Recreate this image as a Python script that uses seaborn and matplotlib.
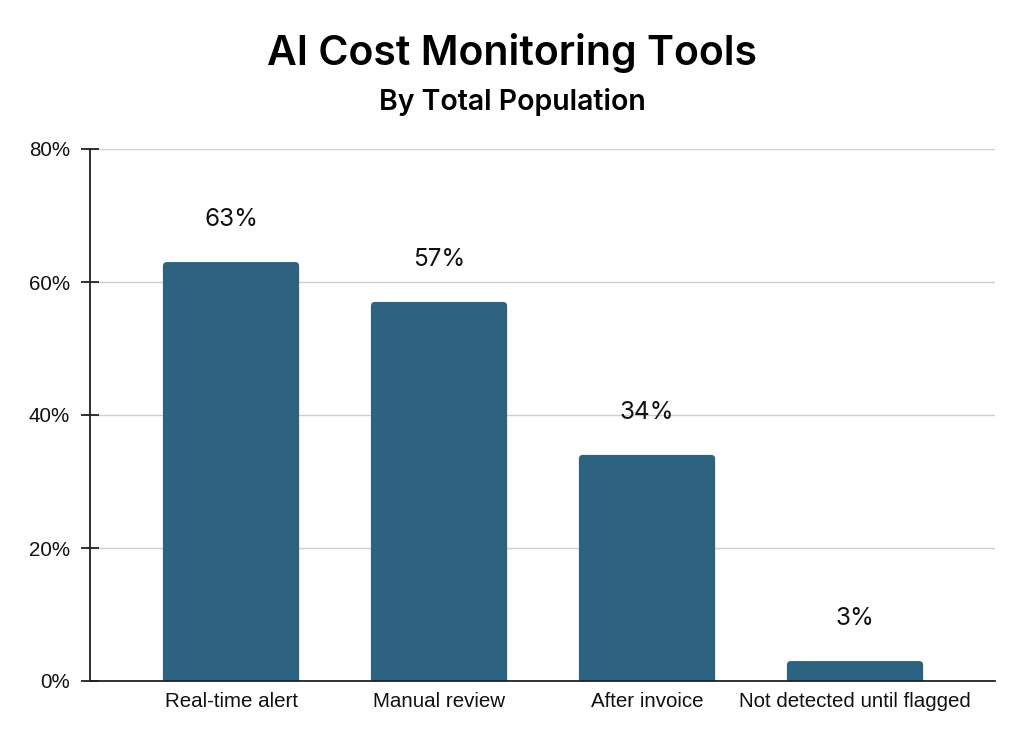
import matplotlib
matplotlib.use("Agg")
import matplotlib.pyplot as plt
import matplotlib.ticker as mticker
from matplotlib.patches import FancyBboxPatch
import pandas as pd
import seaborn as sns

CATEGORIES = ["Real-time alert", "Manual review", "After invoice", "Not detected until flagged"]
SHARES = [63, 57, 34, 3]
Y_TICKS = [0, 20, 40, 60, 80]

BAR_COLOR = "#2d6380"
TITLE = "AI Cost Monitoring Tools"
SUBTITLE = "By Total Population"


def main() -> None:
    sns.set_theme(style="white")
    plt.rcParams["font.family"] = ["Liberation Sans", "DejaVu Sans"]

    df = pd.DataFrame({"category": CATEGORIES, "share": SHARES})

    fig = plt.figure(figsize=(10.24, 7.55), dpi=100)
    ax = fig.add_axes([90 / 1024, 74 / 755, 905 / 1024, 532 / 755])

    sns.barplot(data=df, x="category", y="share", order=CATEGORIES,
                color=BAR_COLOR, saturation=1, width=0.655, ax=ax, zorder=3)

    ax.set_xlim(-0.678, 3.673)
    ax.set_ylim(0, 80)
    ax.set_yticks(Y_TICKS)
    ax.yaxis.set_major_formatter(mticker.FuncFormatter(lambda v, _: f"{v:.0f}%"))
    ax.set_xlabel("")
    ax.set_ylabel("")

    # rounded tops on the bars
    x_per_px = (3.673 + 0.678) / 905
    y_per_px = 80 / 532
    r = 4
    for patch in list(ax.patches):
        x0, y0 = patch.get_x(), patch.get_y()
        w, h = patch.get_width(), patch.get_height()
        patch.set_visible(False)
        fb = FancyBboxPatch((x0, y0 - 2), w, h + 2,
                            boxstyle=f"round,pad=0,rounding_size={r * x_per_px}",
                            mutation_aspect=y_per_px / x_per_px,
                            facecolor=BAR_COLOR, edgecolor="none", zorder=3)
        ax.add_patch(fb)

    for container in ax.containers:
        ax.bar_label(container, labels=[f"{v}%" for v in SHARES], padding=22,
                     fontsize=17.5, family=["Inter", "DejaVu Sans"], color="#111111")

    ax.grid(axis="y", color="#cfcfcf", linewidth=1.0, zorder=0)
    ax.grid(axis="x", visible=False)
    for side in ["top", "right"]:
        ax.spines[side].set_visible(False)
    for side in ["left", "bottom"]:
        ax.spines[side].set_color("#222222")
        ax.spines[side].set_linewidth(1.3)
        ax.spines[side].set_zorder(4)

    ax.tick_params(axis="y", direction="inout", length=13, width=1.3, color="#222222",
                   labelsize=14.8, pad=8, labelcolor="#111111", left=True)
    ax.tick_params(axis="x", length=0, labelsize=14.8, pad=8, labelcolor="#111111")

    fig.text(0.5, 1 - 53 / 755, TITLE, ha="center", va="center", fontsize=29.5,
             fontweight="semibold", family=["Inter", "DejaVu Sans"], color="#000000")
    fig.text(0.5, 1 - 102 / 755, SUBTITLE, ha="center", va="center", fontsize=20.5,
             fontweight="semibold", family=["Inter", "DejaVu Sans"], color="#000000")

    fig.savefig("out.png", dpi=100, facecolor="white")
    plt.close(fig)


if __name__ == "__main__":
    main()
